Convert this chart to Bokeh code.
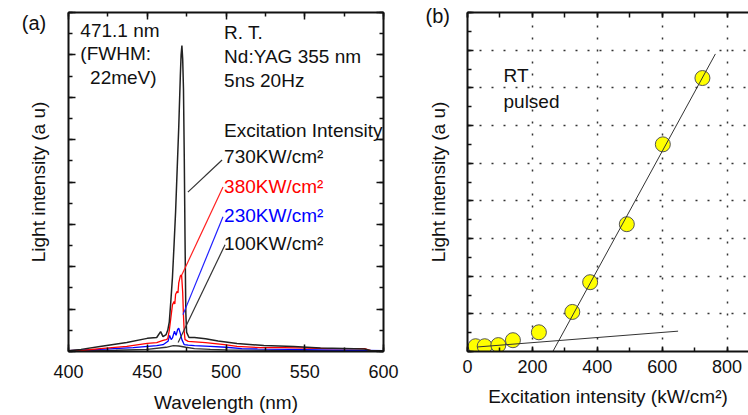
from bokeh.plotting import figure
from bokeh.layouts import row
from bokeh.models import Label, LinearAxis, Range1d, SingleIntervalTicker
from bokeh.embed import file_html
from bokeh.resources import INLINE

FONT = "Liberation Sans"

# ---------------- panel (a): spectra ----------------
wl_730 = [400, 408, 420, 437, 450, 456, 458.5, 460, 462, 463, 464, 465, 466, 467, 468, 469, 470, 471,
          471.5, 472, 472.5, 473, 473.5, 474, 474.5, 475, 476.5, 480, 487, 495, 507, 524, 543, 560, 575,
          588, 592, 600]
int_730 = [0.02, 0.05, 0.12, 0.21, 0.31, 0.33, 0.47, 0.35, 0.40, 0.50, 0.70, 1.20, 1.75, 2.50, 3.30,
           4.30, 5.30, 6.50, 7.00, 7.22, 6.90, 6.20, 4.60, 2.60, 0.90, 0.45, 0.33, 0.33, 0.30, 0.25,
           0.19, 0.14, 0.12, 0.08, 0.07, 0.06, 0.02, 0.02]

wl_380 = [400, 410, 420, 437, 450, 456, 460, 462, 463, 464, 465, 466, 467, 467.5, 468, 469, 469.5, 470,
          471, 471.8, 472.5, 473, 473.5, 474, 476, 487, 499, 507, 522, 537, 565, 588, 592, 600]
int_380 = [0.02, 0.03, 0.07, 0.12, 0.19, 0.21, 0.26, 0.28, 0.30, 0.50, 0.80, 1.10, 1.18, 1.12, 1.35,
           1.42, 1.38, 1.62, 1.78, 1.81, 1.40, 0.85, 0.45, 0.28, 0.24, 0.21, 0.16, 0.12, 0.09, 0.09,
           0.07, 0.07, 0.02, 0.02]

wl_230 = [400, 420, 441, 456, 460, 463.2, 464.2, 465.2, 466, 467.3, 468.3, 469.3, 470, 470.8, 472,
          473.5, 476, 480, 490, 500, 510, 520, 540, 560, 580, 600]
int_230 = [0.02, 0.05, 0.09, 0.14, 0.16, 0.24, 0.38, 0.28, 0.32, 0.48, 0.38, 0.52, 0.55, 0.45, 0.28,
           0.16, 0.15, 0.14, 0.12, 0.10, 0.07, 0.06, 0.05, 0.04, 0.03, 0.02]

wl_100 = [400, 430, 450, 462, 466.5, 470, 474.5, 480, 490, 500, 530, 560, 600]
int_100 = [0.02, 0.03, 0.05, 0.10, 0.14, 0.13, 0.10, 0.07, 0.05, 0.04, 0.03, 0.02, 0.02]

# leader lines (label -> curve), in data coordinates
lead_x0 = [497.5, 498.1, 498.1, 499.4]
lead_y0 = [4.52, 3.88, 3.18, 2.52]
lead_x1 = [475.8, 472.0, 472.7, 469.6]
lead_y1 = [3.76, 1.81, 0.87, 0.21]
lead_col = ["#333333", "#ff2020", "#2020ff", "#333333"]

series_labels = ["730KW/cm²", "380KW/cm²", "230KW/cm²", "100KW/cm²"]
series_label_y = [4.59, 3.90, 3.22, 2.56]
series_label_col = ["#111111", "#ff0000", "#0000ff", "#111111"]

# ---------------- panel (b): threshold ----------------
exc = [25, 53, 95, 140, 220, 323, 378, 491, 602, 724]
light = [0.14, 0.14, 0.17, 0.30, 0.51, 1.05, 1.84, 3.38, 5.50, 7.26]
fit_hi_x = [263, 764]
fit_hi_y = [0.0, 7.9]
fit_lo_x = [30, 649]
fit_lo_y = [0.12, 0.54]


def style_axis(ax, maj_in=7, min_in=4, labels=True):
    ax.axis_line_width = 2
    ax.axis_line_color = "#111111"
    ax.major_tick_in = maj_in
    ax.major_tick_out = 0
    ax.minor_tick_in = min_in
    ax.minor_tick_out = 0
    ax.major_tick_line_width = 1.5
    ax.minor_tick_line_width = 1.5
    ax.major_tick_line_color = "#111111"
    ax.minor_tick_line_color = "#111111"
    ax.major_label_text_font = FONT
    ax.axis_label_text_font = FONT
    ax.axis_label_text_font_style = "normal"
    ax.axis_label_text_font_size = "19px"
    ax.axis_label_text_color = "#111111"
    if labels:
        ax.major_label_text_color = "#111111"
        ax.major_label_text_font_size = "18px"
    else:
        ax.major_label_text_color = None
        ax.major_label_text_font_size = "1px"
        ax.major_label_standoff = 0


# ---------- figure (a) ----------
p1 = figure(width=400, height=415, x_range=Range1d(400, 600), y_range=Range1d(0, 8),
            output_backend="svg", toolbar_location=None,
            min_border_left=60, min_border_right=17, min_border_top=12, min_border_bottom=63,
            x_axis_location=None, y_axis_location=None)
p1.outline_line_color = None
p1.grid.visible = False
p1.background_fill_color = "white"
p1.border_fill_color = "white"

xt1 = SingleIntervalTicker(interval=50, num_minor_ticks=2)
yt1 = SingleIntervalTicker(interval=1, num_minor_ticks=2)
ax_b = LinearAxis(ticker=xt1, axis_label="Wavelength (nm)")
style_axis(ax_b)
ax_b.major_label_standoff = 13
ax_b.axis_label_standoff = 11
ax_l = LinearAxis(ticker=yt1, axis_label="Light intensity (a u)")
style_axis(ax_l, labels=False)
ax_l.axis_label_standoff = 20
ax_t = LinearAxis(ticker=xt1)
style_axis(ax_t, labels=False)
ax_r = LinearAxis(ticker=yt1)
style_axis(ax_r, labels=False)
p1.add_layout(ax_b, "below")
p1.add_layout(ax_l, "left")
p1.add_layout(ax_t, "above")
p1.add_layout(ax_r, "right")

p1.line(wl_100, int_100, line_color="#333333", line_width=1.3)
p1.line(wl_230, int_230, line_color="#0000ff", line_width=1.3)
p1.line(wl_380, int_380, line_color="#ff0000", line_width=1.3)
p1.line(wl_730, int_730, line_color="#222222", line_width=1.5)
p1.segment(x0=lead_x0, y0=lead_y0, x1=lead_x1, y1=lead_y1, line_color=lead_col, line_width=1.2)


def make_text(x, y, text, color="#111111", size="19px"):
    return Label(x=x, y=y, text=text, text_font=FONT, text_font_size=size,
                 text_color=color, text_baseline="middle", text_align="left")


for (x, y, t) in [(407.5, 7.58, "471.1 nm"), (407.5, 7.04, "(FWHM:"), (413.7, 6.47, "22meV)"),
                  (498.8, 7.53, "R. T."), (498.8, 6.96, "Nd:YAG 355 nm"), (498.8, 6.40, "5ns 20Hz"),
                  (498.8, 5.22, "Excitation Intensity")]:
    p1.add_layout(make_text(x, y, t))
for t, yy, c in zip(series_labels, series_label_y, series_label_col):
    p1.add_layout(make_text(498.8, yy, t, color=c))
p1.add_layout(make_text(370.3, 7.76, "(a)", size="20px"), "left")

# ---------- figure (b) ----------
p2 = figure(width=348, height=415, x_range=Range1d(0, 866), y_range=Range1d(0, 9),
            output_backend="svg", toolbar_location=None,
            min_border_left=60, min_border_right=0, min_border_top=12, min_border_bottom=63,
            x_axis_location=None, y_axis_location=None)
p2.outline_line_color = None
p2.background_fill_color = "white"
p2.border_fill_color = "white"

xt2 = SingleIntervalTicker(interval=200, num_minor_ticks=2)
yt2 = SingleIntervalTicker(interval=1, num_minor_ticks=2)
bx_b = LinearAxis(ticker=xt2, axis_label="Excitation intensity (kW/cm²)")
style_axis(bx_b, maj_in=5, min_in=4)
bx_b.major_label_standoff = 8
bx_b.axis_label_standoff = 10
bx_l = LinearAxis(ticker=yt2, axis_label="Light intensity (a u)")
style_axis(bx_l, maj_in=6, min_in=4, labels=False)
bx_l.axis_label_standoff = 19
bx_t = LinearAxis(ticker=xt2)
style_axis(bx_t, maj_in=5, min_in=5, labels=False)
p2.add_layout(bx_b, "below")
p2.add_layout(bx_l, "left")
p2.add_layout(bx_t, "above")

p2.xgrid.ticker = xt2
p2.ygrid.ticker = yt2
for g in (p2.xgrid, p2.ygrid):
    g.grid_line_color = "#333333"
    g.grid_line_dash = "2 10"
    g.grid_line_width = 1.5

p2.scatter(exc, light, size=15, fill_color="#ffff00", line_color="#555555", line_width=1)
p2.line(fit_hi_x, fit_hi_y, line_color="#333333", line_width=1)
p2.line(fit_lo_x, fit_lo_y, line_color="#333333", line_width=1)

p2.add_layout(make_text(111, 7.32, "RT"))
p2.add_layout(make_text(111, 6.65, "pulsed"))
p2.add_layout(make_text(-129.3, 8.92, "(b)", size="20px"), "left")

layout = row(p1, p2)
open("out.html", "w").write(file_html(layout, INLINE))
